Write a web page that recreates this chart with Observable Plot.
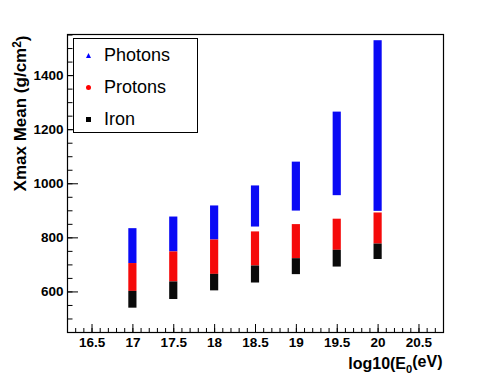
<!DOCTYPE html>
<html><head><meta charset="utf-8">
<script src="https://cdn.jsdelivr.net/npm/d3@7"></script>
<script src="https://cdn.jsdelivr.net/npm/@observablehq/plot@0.6"></script>
<style>
body{margin:0;background:#fff;}
#wrap{position:relative;width:482px;height:382px;font-family:"Liberation Sans",Arial,Helvetica,sans-serif;}
#legend{position:absolute;left:73px;top:38px;width:125px;height:95px;border:1px solid #000;background:#fff;box-sizing:border-box;}
.row{position:absolute;left:0;height:22px;display:flex;align-items:center;font-size:18px;color:#000;}
.row svg{margin-left:12px;margin-right:13px;}
</style></head>
<body><div id="wrap"><div id="legend"></div></div>
<script>
// Data
const energy = [17, 17.5, 18, 18.5, 19, 19.5, 20];
const photonLow  = [705, 748, 792, 840, 899, 956, 898];
const photonHigh = [834, 877, 918, 992, 1080, 1265, 1529];
const protonLow  = [602, 637, 665, 696, 723, 754, 777];
const protonHigh = [705, 748, 792, 822, 849, 869, 892];
const ironLow    = [540, 572, 604, 633, 664, 692, 720];
const ironHigh   = [602, 637, 665, 696, 723, 754, 777];
const seriesNames = ["Photons", "Protons", "Iron"];
const seriesColors = ["#0a0af5", "#f50a0a", "#0a0a0a"];
const xTickLabels = [16.5, 17, 17.5, 18, 18.5, 19, 19.5, 20, 20.5];
const xMinorTicks = d3.range(163, 208).map(v => v / 10);
const yTickLabels = [600, 800, 1000, 1200, 1400];
const yMinorTicks = d3.range(450, 1551, 50);
const xTitle = "log10(E0(eV)";
const yTitle = "Xmax Mean (g/cm2)";

const lows = [photonLow, protonLow, ironLow];
const highs = [photonHigh, protonHigh, ironHigh];
const rows = [];
seriesNames.forEach((s, i) => energy.forEach((e, j) => rows.push({series: s, e, lo: lows[i][j], hi: highs[i][j]})));

const font = '"Liberation Sans", Arial, Helvetica, sans-serif';
const chart = Plot.plot({
  width: 482, height: 382,
  marginLeft: 67, marginRight: 39, marginTop: 34, marginBottom: 50,
  style: {fontFamily: font, background: "#fff", color: "#000"},
  x: {domain: [16.2, 20.8]},
  y: {domain: [450, 1552]},
  color: {domain: seriesNames, range: seriesColors},
  marks: [
    Plot.rect(rows, {x1: d => d.e - 0.05, x2: d => d.e + 0.05, y1: "lo", y2: "hi", fill: "series"}),
    Plot.axisX({ticks: xMinorTicks, tickSize: -4, text: null, label: null}),
    Plot.axisX({ticks: xTickLabels, tickSize: -8, text: null, label: null}),
    Plot.axisX({ticks: xTickLabels, tickSize: 0, tickPadding: 5, fontSize: 13.5, fontWeight: "bold", label: null, tickFormat: d => String(d)}),
    Plot.axisY({ticks: yMinorTicks, tickSize: -5.5, text: null, label: null}),
    Plot.axisY({ticks: yTickLabels, tickSize: -11, text: null, label: null}),
    Plot.axisY({ticks: yTickLabels, tickSize: 0, tickPadding: 4, fontSize: 13.5, fontWeight: "bold", label: null, tickFormat: d => String(d)}),
    Plot.frame({stroke: "#000", strokeWidth: 1.2}),
    Plot.text([yTitle], {frameAnchor: "top-left", text: d => d, rotate: -90, textAnchor: "end", lineAnchor: "middle", dx: -47, dy: 1, fontSize: 17, fontWeight: "bold"}),
    Plot.text([xTitle], {frameAnchor: "bottom-right", text: d => d, textAnchor: "end", lineAnchor: "middle", dx: -1, dy: 31, fontSize: 16, fontWeight: "bold"})
  ]
});
document.getElementById("wrap").prepend(chart);

// sub/superscripts
d3.select(chart).selectAll("text").each(function() {
  const t = d3.select(this);
  const s = t.text();
  if (s === yTitle) {
    t.text(null);
    t.append("tspan").text("Xmax Mean (g/cm");
    t.append("tspan").attr("dy", "-0.45em").attr("font-size", "0.7em").text("2");
    t.append("tspan").attr("dy", "0.45em").text(")");
  } else if (s === xTitle) {
    t.text(null);
    t.append("tspan").text("log10(E");
    t.append("tspan").attr("dy", "0.35em").attr("font-size", "0.7em").text("0");
    t.append("tspan").attr("dy", "-0.35em").text("(eV)");
  }
});

// legend
const legend = document.getElementById("legend");
const markerSvg = [
  '<svg width="5" height="5"><polygon points="2.5,0 5,5 0,5" fill="#0000ff"/></svg>',
  '<svg width="5" height="5"><circle cx="2.5" cy="2.5" r="2.5" fill="#ff0000"/></svg>',
  '<svg width="5" height="5"><rect x="0" y="0" width="5" height="5" fill="#000"/></svg>'
];
const rowTops = [5, 37, 69];
seriesNames.forEach((s, i) => {
  const r = document.createElement("div");
  r.className = "row";
  r.style.top = rowTops[i] + "px";
  r.innerHTML = markerSvg[i] + "<span>" + s + "</span>";
  legend.appendChild(r);
});
</script>
</body></html>
